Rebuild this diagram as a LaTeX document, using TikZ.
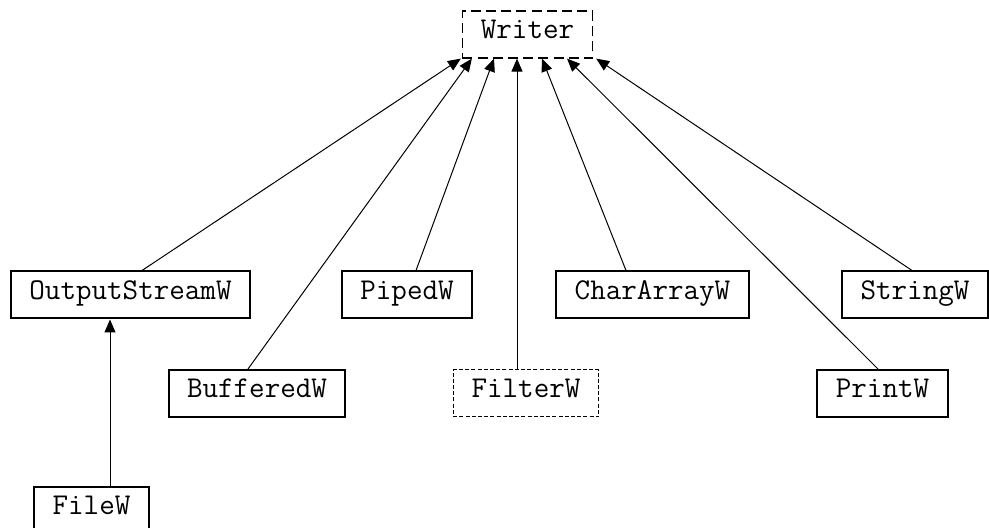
\documentclass[tikz,border=0pt]{standalone}
\usetikzlibrary{arrows.meta}
\tikzset{
  cls/.style={draw, line width=1pt, inner xsep=9.2pt, inner ysep=0pt, minimum height=23.5pt,
    text height=0.62em, text depth=0.2em, font=\ttfamily\fontsize{15.1}{17}\selectfont},
  abscls/.style={cls, line width=0.6pt, dash pattern=on 5pt off 2.6pt},
  dotcls/.style={cls, line width=0.5pt, dash pattern=on 2pt off 1.1pt},
  edge/.style={line width=0.5pt, -{Triangle[length=6.5pt,width=5.5pt]}}
}
\begin{document}
\begin{tikzpicture}[x=0.5pt,y=-0.5pt]
\useasboundingbox (0,0) rectangle (989,528);
\node[abscls] (Writer) at (527.5,34.5) {Writer};
\node[cls] (OSW) at (130.5,295) {OutputStreamW};
\node[cls] (PipedW) at (407,295) {PipedW};
\node[cls] (CharArrayW) at (652.5,295) {CharArrayW};
\node[cls] (StringW) at (915,295) {StringW};
\node[cls] (BufferedW) at (257,393.5) {BufferedW};
\node[dotcls] (FilterW) at (526,393.5) {FilterW};
\node[cls] (PrintW) at (882.5,393.5) {PrintW};
\node[cls] (FileW) at (91.5,510.5) {FileW};
\draw[edge] ([xshift=5.75pt]OSW.north) -- ([xshift=-0.5pt]Writer.south west);
\draw[edge] ([xshift=-4.5pt]BufferedW.north) -- ([xshift=5pt]Writer.south west);
\draw[edge] ([xshift=4.5pt]PipedW.north) -- ([xshift=-16.75pt]Writer.south);
\draw[edge] ([xshift=-4.5pt]FilterW.north) -- ([xshift=-5.25pt]Writer.south);
\draw[edge] ([xshift=-13.25pt]CharArrayW.north) -- ([xshift=7.25pt]Writer.south);
\draw[edge] ([xshift=-2.25pt]PrintW.north) -- ([xshift=19.75pt]Writer.south);
\draw[edge] ([xshift=-1.5pt]StringW.north) -- ([xshift=1.5pt]Writer.south east);
\draw[edge] ([xshift=9.25pt]FileW.north) -- ([xshift=-10.25pt]OSW.south);
\end{tikzpicture}
\end{document}
